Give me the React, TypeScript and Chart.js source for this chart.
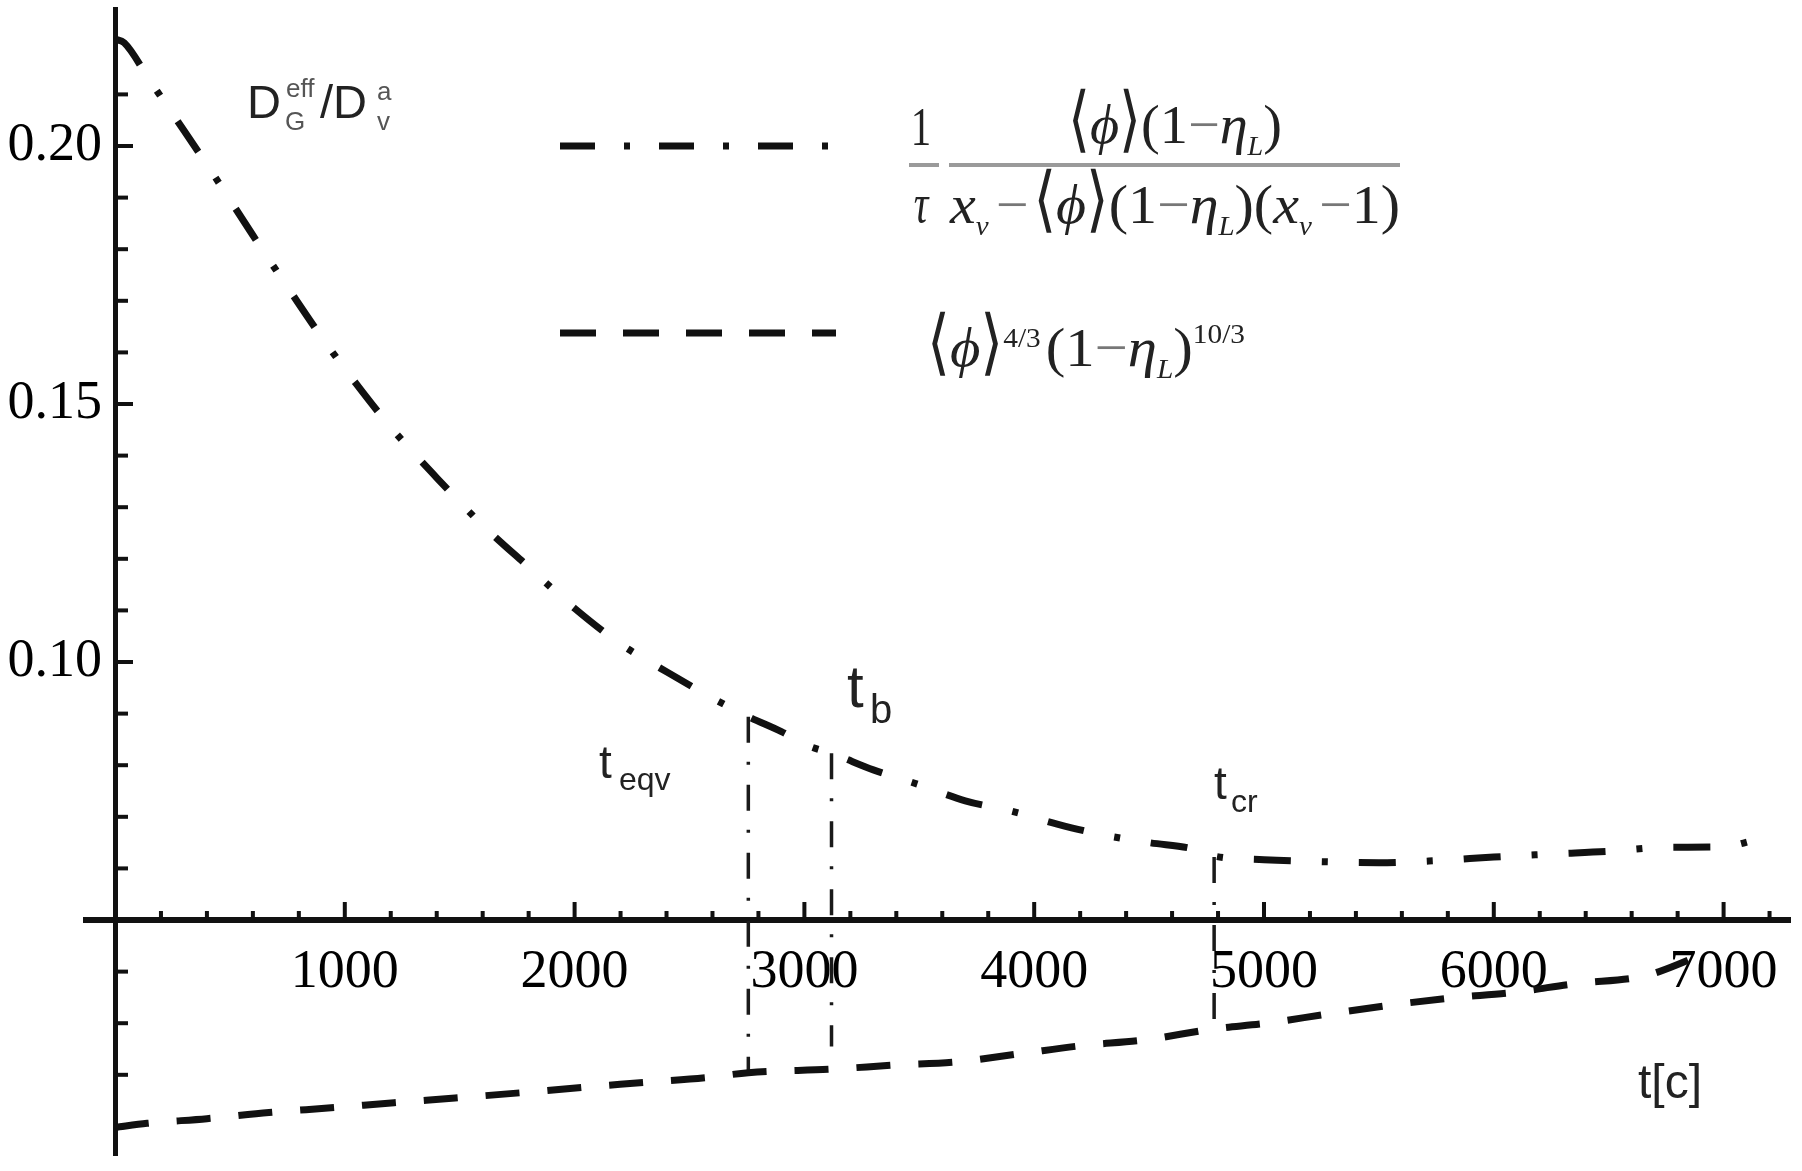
import React, { useEffect, useRef } from 'react';
import { Chart, registerables } from 'chart.js';

Chart.register(...registerables);

// ---------- data ----------
const upperX = [0, 40, 150, 300, 450, 600, 750, 900, 1050, 1200, 1400, 1600, 1800, 2000, 2200, 2400, 2600, 2756, 2900, 3020, 3118, 3300, 3500, 3700, 3900, 4100, 4300, 4500, 4700, 4783, 5000, 5250, 5500, 5750, 6000, 6250, 6500, 6750, 7000, 7130];
const upperY = [0.2207, 0.2200, 0.2128, 0.2030, 0.1930, 0.1827, 0.1727, 0.1629, 0.1539, 0.1455, 0.1357, 0.1265, 0.1184, 0.1104, 0.1035, 0.0981, 0.0930, 0.0894, 0.0865, 0.0837, 0.0823, 0.0791, 0.0762, 0.0731, 0.0711, 0.0686, 0.0665, 0.0650, 0.0637, 0.0624, 0.0617, 0.0613, 0.0611, 0.0615, 0.0622, 0.0628, 0.0633, 0.0641, 0.0642, 0.0654];

const lowerX = [0, 140, 400, 670, 940, 1215, 1480, 1760, 2040, 2300, 2580, 2756, 3120, 3400, 3660, 3940, 4215, 4470, 4783, 5010, 5280, 5550, 5815, 6090, 6360, 6640, 6720, 6900];
const lowerY = [0.0098, 0.0106, 0.0115, 0.0127, 0.0136, 0.0146, 0.0155, 0.0165, 0.0176, 0.0185, 0.0195, 0.0204, 0.0211, 0.0219, 0.0225, 0.0241, 0.0257, 0.0267, 0.0289, 0.0300, 0.0318, 0.0335, 0.0349, 0.0360, 0.0377, 0.0390, 0.0400, 0.0432];

const markerX = [2756, 3118, 4783];
const markerTop = [0.0894, 0.0823, 0.0622];
const markerBottom = [0.0204, 0.0255, 0.0291];

const xTickLabels = [1000, 2000, 3000, 4000, 5000, 6000, 7000];
const yTickLabels = [0.1, 0.15, 0.2];
const xAxisCross = 0.05;
const xMin = 0;
const xMax = 7289;
const yMin = 0.00446;
const yMax = 0.22655;
const xMinorStep = 200;
const yMinorStep = 0.01;
const yMinorCount = 21;

// ---------- styles ----------
const SERIF = "'Liberation Serif', 'DejaVu Serif', 'Times New Roman', serif";
const SANS = "'Liberation Sans', Arial, 'DejaVu Sans', sans-serif";
const INK = '#111';
const FORMULA = '#222';

type Seg = { t: string; size?: number; italic?: boolean; dy?: number; sy?: number; color?: string; gap?: number };

function serifFont(s: Seg) {
  return `${s.italic ? 'italic ' : ''}${s.size ?? 48}px ${SERIF}`;
}

function drawRun(ctx: CanvasRenderingContext2D, segs: Seg[], x: number, baseline: number, targetW: number, sy: number) {
  let total = 0;
  const ws = segs.map((s) => {
    ctx.font = serifFont(s);
    const w = ctx.measureText(s.t).width + (s.gap ?? 0);
    total += w;
    return w;
  });
  const sx = targetW / total;
  ctx.save();
  ctx.translate(x, baseline);
  ctx.scale(sx, sy);
  ctx.textAlign = 'left';
  ctx.textBaseline = 'alphabetic';
  let cx = 0;
  segs.forEach((s, i) => {
    ctx.save();
    ctx.font = serifFont(s);
    ctx.fillStyle = s.color ?? FORMULA;
    ctx.translate(cx, (s.dy ?? 0) / sy);
    if (s.sy) ctx.scale(1, s.sy);
    ctx.fillText(s.t, 0, 0);
    ctx.restore();
    cx += ws[i];
  });
  ctx.restore();
}

function sansText(ctx: CanvasRenderingContext2D, t: string, size: number, x: number, y: number, color = '#222') {
  ctx.font = `${size}px ${SANS}`;
  ctx.fillStyle = color;
  ctx.textAlign = 'left';
  ctx.textBaseline = 'alphabetic';
  ctx.fillText(t, x, y);
}

const MINUS = '\u2212';
const LANG = '\u27E8';
const RANG = '\u27E9';
const PHI = '\u03D5';
const ETA = '\u03B7';
const TAU = '\u03C4';

const decorPlugin = {
  id: 'decor',
  beforeDraw(chart: any) {
    const ctx = chart.ctx as CanvasRenderingContext2D;
    ctx.save();
    ctx.fillStyle = '#fff';
    ctx.fillRect(0, 0, chart.width, chart.height);
    ctx.restore();
  },
  afterDraw(chart: any) {
    const ctx = chart.ctx as CanvasRenderingContext2D;
    const xs = chart.scales.x;
    const ys = chart.scales.y;
    const y0 = ys.getPixelForValue(xAxisCross);
    const x0 = xs.getPixelForValue(0);
    ctx.save();
    ctx.fillStyle = INK;
    // x-axis stub to the left of the y-axis
    ctx.fillRect(83, y0 - 3, x0 - 83, 6);
    // x tick marks (pointing up)
    for (let i = 1; i * xMinorStep <= xMax; i++) {
      const v = i * xMinorStep;
      const px = xs.getPixelForValue(v);
      const major = v % 1000 === 0;
      const len = major ? 18 : 9;
      ctx.fillRect(px - 2, y0 - len, 4, len);
    }
    // y tick marks (pointing right)
    for (let i = 1; i <= yMinorCount; i++) {
      const v = i * yMinorStep;
      if (i === 5) continue;
      const py = ys.getPixelForValue(v);
      const major = i % 5 === 0;
      const len = major ? 18 : 13;
      ctx.fillRect(x0, py - 2, len, 4);
    }

    // legend samples
    ctx.strokeStyle = INK;
    ctx.lineCap = 'butt';
    ctx.lineWidth = 7;
    ctx.setLineDash([35, 29, 6, 29]);
    ctx.beginPath();
    ctx.moveTo(560, 146);
    ctx.lineTo(836, 146);
    ctx.stroke();
    ctx.setLineDash([36, 27]);
    ctx.beginPath();
    ctx.moveTo(560, 333);
    ctx.lineTo(836, 333);
    ctx.stroke();
    ctx.setLineDash([]);

    // axis label D_G^eff / D_v^a
    sansText(ctx, 'D', 47, 247, 118);
    sansText(ctx, 'eff', 26, 286, 97, '#555');
    sansText(ctx, 'G', 26, 285, 130, '#555');
    sansText(ctx, '/D', 47, 320, 118);
    sansText(ctx, 'a', 26, 377, 100, '#555');
    sansText(ctx, 'v', 26, 377, 130, '#555');

    // marker labels
    sansText(ctx, 't', 46, 599, 778);
    sansText(ctx, 'eqv', 32, 619, 790);
    sansText(ctx, 't', 60, 847, 707);
    sansText(ctx, 'b', 40, 870, 723);
    sansText(ctx, 't', 46, 1214, 799);
    sansText(ctx, 'cr', 32, 1231, 812);
    sansText(ctx, 't[c]', 48, 1638, 1098);

    // formula 1
    ctx.fillStyle = '#9a9a9a';
    ctx.fillRect(909, 163, 30, 4);
    ctx.fillRect(949, 163, 451, 4);
    ctx.save();
    ctx.textAlign = 'center';
    ctx.fillStyle = FORMULA;
    ctx.translate(921, 145);
    ctx.scale(0.85, 1.15);
    ctx.font = `48px ${SERIF}`;
    ctx.fillText('1', 0, 0);
    ctx.restore();
    ctx.save();
    ctx.textAlign = 'center';
    ctx.fillStyle = FORMULA;
    ctx.translate(921, 222);
    ctx.scale(0.85, 1.15);
    ctx.font = `italic 48px ${SERIF}`;
    ctx.fillText(TAU, 0, 0);
    ctx.restore();

    drawRun(ctx, [
      { t: LANG, sy: 1.3 },
      { t: PHI, italic: true },
      { t: RANG, sy: 1.3 },
      { t: '(1' },
      { t: MINUS, color: '#777' },
      { t: ETA, italic: true },
      { t: 'L', size: 24, italic: true, dy: 12 },
      { t: ')' },
    ], 1068, 143, 214, 1.15);

    drawRun(ctx, [
      { t: 'x', italic: true },
      { t: 'v', size: 24, italic: true, dy: 12, gap: 6 },
      { t: MINUS, color: '#777', gap: 4 },
      { t: LANG, sy: 1.3 },
      { t: PHI, italic: true },
      { t: RANG, sy: 1.3 },
      { t: '(1' },
      { t: MINUS, color: '#777' },
      { t: ETA, italic: true },
      { t: 'L', size: 24, italic: true, dy: 12 },
      { t: ')(' },
      { t: 'x', italic: true },
      { t: 'v', size: 24, italic: true, dy: 12, gap: 6 },
      { t: MINUS, color: '#777' },
      { t: '1)' },
    ], 950, 223, 450, 1.15);

    // formula 2
    drawRun(ctx, [
      { t: LANG, sy: 1.3 },
      { t: PHI, italic: true },
      { t: RANG, sy: 1.3 },
      { t: '4/3', size: 24, dy: -19, gap: 4 },
      { t: '(1' },
      { t: MINUS, color: '#777' },
      { t: ETA, italic: true },
      { t: 'L', size: 24, italic: true, dy: 12 },
      { t: ')' },
      { t: '10/3', size: 24, dy: -23 },
    ], 927, 366, 318, 1.15);

    ctx.restore();
  },
};

function pts(xsArr: number[], ysArr: number[]) {
  return xsArr.map((x, i) => ({ x, y: ysArr[i] }));
}

export default function App() {
  const ref = useRef<HTMLCanvasElement>(null);

  useEffect(() => {
    document.body.style.margin = '0';
    document.body.style.overflow = 'hidden';
    const canvas = ref.current;
    if (!canvas) return;

    const markerSets = markerX.map((x, i) => ({
      data: [{ x, y: markerTop[i] }, { x, y: markerBottom[i] }],
      borderColor: '#1a1a1a',
      borderWidth: 3.5,
      borderDash: [26, 19, 3, 20],
      pointRadius: 0,
      fill: false,
      tension: 0,
    }));

    const chart = new Chart(canvas, {
      type: 'line',
      data: {
        datasets: [
          {
            data: pts(upperX, upperY),
            borderColor: INK,
            borderWidth: 7,
            borderDash: [37, 31, 6, 31],
            borderCapStyle: 'butt',
            pointRadius: 0,
            fill: false,
            cubicInterpolationMode: 'monotone',
          },
          {
            data: pts(lowerX, lowerY),
            borderColor: INK,
            borderWidth: 7,
            borderDash: [34, 28],
            borderCapStyle: 'butt',
            pointRadius: 0,
            fill: false,
            cubicInterpolationMode: 'monotone',
          },
          ...markerSets,
        ] as any,
      },
      options: {
        animation: false,
        responsive: false,
        maintainAspectRatio: false,
        devicePixelRatio: 1,
        events: [],
        layout: { padding: { left: 0, right: 12, top: 9, bottom: 16 } },
        plugins: { legend: { display: false }, tooltip: { enabled: false } },
        scales: {
          x: {
            type: 'linear',
            min: xMin,
            max: xMax,
            position: { y: xAxisCross } as any,
            grid: { display: true, drawOnChartArea: false, drawTicks: false },
            border: { display: true, width: 6, color: INK },
            ticks: {
              color: '#000',
              font: { family: SERIF, size: 54 },
              padding: 20,
              maxRotation: 0,
              autoSkip: false,
              callback: (v: any) => String(v),
            },
            afterBuildTicks: (s: any) => {
              s.ticks = xTickLabels.map((value) => ({ value }));
            },
            afterFit: (s: any) => {
              s.paddingLeft = 0;
              s.paddingRight = 0;
            },
          },
          y: {
            type: 'linear',
            min: yMin,
            max: yMax,
            position: 'left',
            grid: { display: true, drawOnChartArea: false, drawTicks: false },
            border: { display: true, width: 5, color: INK },
            ticks: {
              color: '#000',
              font: { family: SERIF, size: 54 },
              padding: 13,
              autoSkip: false,
              callback: (v: any) => Number(v).toFixed(2),
            },
            afterBuildTicks: (s: any) => {
              s.ticks = yTickLabels.map((value) => ({ value }));
            },
            afterFit: (s: any) => {
              s.width = 115;
              s.paddingTop = 0;
              s.paddingBottom = 0;
            },
          },
        },
      },
      plugins: [decorPlugin],
    } as any);

    return () => chart.destroy();
  }, []);

  return (
    <div style={{ width: 1802, height: 1171, background: '#fff' }}>
      <canvas ref={ref} width={1802} height={1171} style={{ display: 'block', width: 1802, height: 1171 }} />
    </div>
  );
}
